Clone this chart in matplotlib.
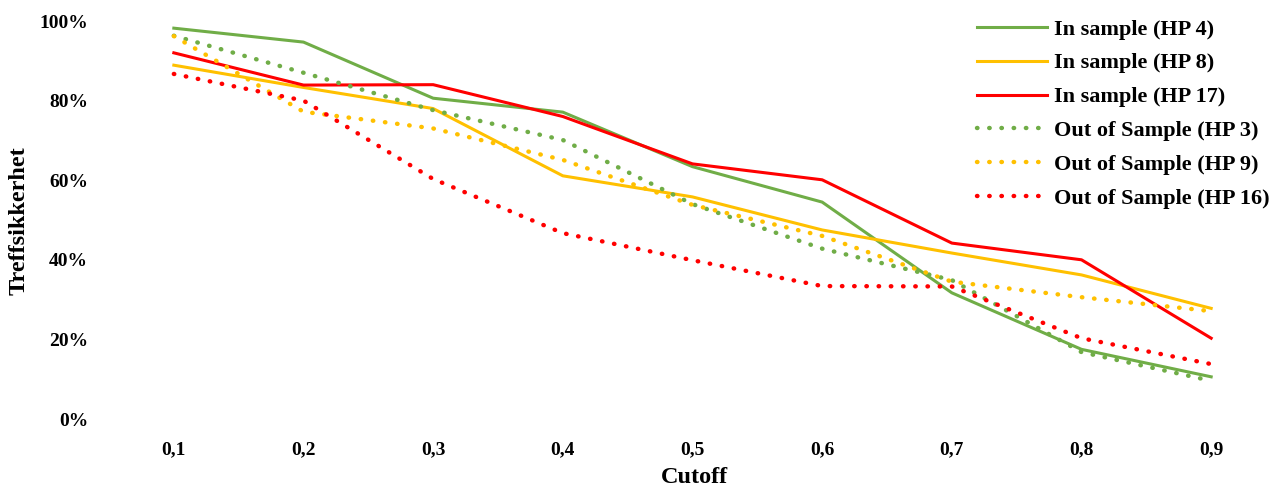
import matplotlib
matplotlib.use("Agg")
import matplotlib.pyplot as plt
from matplotlib.ticker import PercentFormatter

categories = ["0,1", "0,2", "0,3", "0,4", "0,5", "0,6", "0,7", "0,8", "0,9"]

in_hp4 = [98.2, 94.7, 80.6, 77.1, 63.4, 54.5, 31.7, 17.5, 10.6]
in_hp8 = [88.9, 83.3, 78.0, 61.1, 55.8, 47.5, 41.7, 36.2, 27.8]
in_hp17 = [92.0, 83.9, 84.0, 76.0, 64.1, 60.1, 44.2, 40.0, 20.3]
out_hp3 = [96.3, 87.0, 77.6, 70.1, 54.0, 42.8, 34.9, 16.8, 9.6]
out_hp9 = [96.2, 77.2, 73.0, 65.1, 53.8, 46.0, 34.5, 30.6, 27.1]
out_hp16 = [86.7, 80.0, 60.3, 46.7, 39.9, 33.4, 33.3, 20.3, 13.8]

labels = ["In sample (HP 4)", "In sample (HP 8)", "In sample (HP 17)",
          "Out of Sample (HP 3)", "Out of Sample (HP 9)", "Out of Sample (HP 16)"]

GREEN, YELLOW, RED = "#70AD47", "#FFC000", "#FF0000"

plt.rcParams['font.family'] = ['Liberation Serif', 'DejaVu Serif']
plt.rcParams['font.weight'] = 'bold'

W, H = 1277, 488
fig = plt.figure(figsize=(W / 100, H / 100), dpi=100)
ax = fig.add_axes([109 / W, 1 - 419 / H, (1276 - 109) / W, (419 - 21) / H])

x = list(range(len(categories)))
lw = 2.2
dot = (0, (0.1, 2.65))
series = [
    (in_hp4, GREEN, '-'), (in_hp8, YELLOW, '-'), (in_hp17, RED, '-'),
    (out_hp3, GREEN, dot), (out_hp9, YELLOW, dot), (out_hp16, RED, dot),
]
handles = []
for (vals, c, ls), lab in zip(series, labels):
    if ls == '-':
        h, = ax.plot(x, vals, color=c, lw=lw, ls=ls, label=lab)
    else:
        h, = ax.plot(x, vals, color=c, lw=3.2, ls=ls, label=lab, dash_capstyle='round')
    handles.append(h)

ax.set_xlim(-0.5, len(categories) - 0.5)
ax.set_ylim(0, 100)
ax.set_yticks([0, 20, 40, 60, 80, 100])
ax.yaxis.set_major_formatter(PercentFormatter(decimals=0))
ax.set_xticks(x)
ax.set_xticklabels(categories)
for s in ax.spines.values():
    s.set_visible(False)
ax.tick_params(length=0, labelsize=14)
ax.tick_params(axis='y', pad=15)
ax.tick_params(axis='x', pad=16)
for t in ax.get_xticklabels() + ax.get_yticklabels():
    t.set_fontweight('bold')

fig.text(694 / W, 1 - 483 / H, "Cutoff", fontsize=17.5, fontweight='bold',
         ha='center', va='baseline')
fig.text(19 / W, 1 - 221 / H, "Treffsikkerhet", fontsize=17.5, fontweight='bold',
         ha='center', va='center', rotation=90)

leg = fig.legend(handles=handles, loc='upper left', bbox_to_anchor=(977 / W, 1 - 19 / H),
                 frameon=False, prop={'size': 16, 'weight': 'bold'},
                 handlelength=3.15, handletextpad=0.32, labelspacing=0.6,
                 borderaxespad=0, borderpad=0)

fig.savefig("out.png", dpi=100)
